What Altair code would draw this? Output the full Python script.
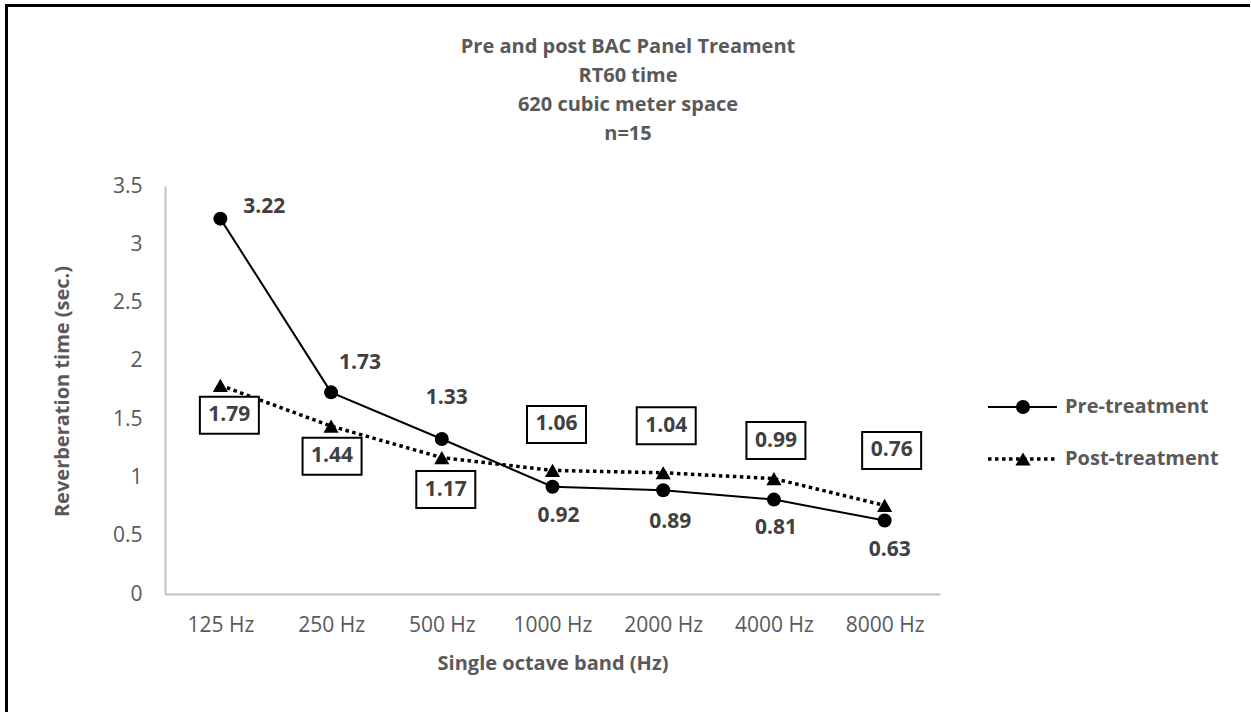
import json
import altair as alt
import pandas as pd

# Octave bands and RT60 values (seconds)
bands = ["125 Hz", "250 Hz", "500 Hz", "1000 Hz", "2000 Hz", "4000 Hz", "8000 Hz"]
pre_treatment = [3.22, 1.73, 1.33, 0.92, 0.89, 0.81, 0.63]
post_treatment = [1.79, 1.44, 1.17, 1.06, 1.04, 0.99, 0.76]
series_names = ["Pre-treatment", "Post-treatment"]
title_lines = ["Pre and post BAC Panel Treament", "RT60 time",
               "620 cubic meter space", "n=15"]

# Hand-placed data-label nudges (pixels, dx / dy) for each series
pre_label_nudge = [(44, -12), (29, -29), (5, -41), (6, 29), (7, 32), (2, 28), (5, 29)]
post_label_nudge = [(9, 30), (1, 30), (4, 32), (4, -46), (3, -47), (2, -38), (7, -55)]

W, H = 775, 408
Y_MAX = 3.5
PX_X = W / len(bands)
PX_Y = H / Y_MAX

FONT = "Open Sans"
FS = 20          # titles and legend
FS_TICK = 21     # axis tick labels
FS_DATA = 21     # data labels
GREY = "#595959"
LABEL_GREY = "#404040"


def frame(values, nudges):
    return pd.DataFrame({
        "idx": list(range(len(bands))),
        "band": bands,
        "value": values,
        "lx": [i + dx / PX_X for i, (dx, _) in enumerate(nudges)],
        "ly": [v - dy / PX_Y for v, (_, dy) in zip(values, nudges)],
    })


pre_df = frame(pre_treatment, pre_label_nudge)
post_df = frame(post_treatment, post_label_nudge)

x_scale = alt.Scale(domain=[-0.5, len(bands) - 0.5], nice=False, zero=False)
y_scale = alt.Scale(domain=[0, Y_MAX], nice=False)

x_axis = alt.Axis(
    values=list(range(len(bands))),
    labelExpr=json.dumps(bands) + "[datum.value]",
    ticks=False, grid=False, title="Single octave band (Hz)",
    labelBaseline="middle", labelPadding=31,
    titleY=69, titleBaseline="middle",
)
y_axis = alt.Axis(
    values=[0, 0.5, 1, 1.5, 2, 2.5, 3, 3.5], format="~g",
    ticks=False, grid=False, title="Reverberation time (sec.)",
    labelPadding=23, titleX=-103, titleY=205, titleAngle=270,
    titleAlign="center", titleBaseline="middle",
)

X = alt.X("idx:Q", scale=x_scale, axis=x_axis)
Y = alt.Y("value:Q", scale=y_scale, axis=y_axis)
LX = alt.X("lx:Q", scale=x_scale, axis=x_axis)
LY = alt.Y("ly:Q", scale=y_scale, axis=y_axis)

# Outer chart frame
border = alt.Chart(pre_df.head(1)).mark_rect(
    fillOpacity=0, stroke="black", strokeWidth=3
).encode(
    x=alt.value(-158.5), x2=alt.value(1300),
    y=alt.value(-180.5), y2=alt.value(800),
)

# Chart title block
title = alt.Chart(pre_df.head(1)).mark_text(
    font=FONT, fontSize=FS, fontWeight="bold", color=GREY,
    align="center", baseline="middle", lineHeight=29,
).encode(x=alt.value(463), y=alt.value(-139), text=alt.value(title_lines))

pre_line = alt.Chart(pre_df).mark_line(color="black", strokeWidth=2).encode(x=X, y=Y)
post_line = alt.Chart(post_df).mark_line(
    color="black", strokeWidth=3.5, strokeDash=[3.5, 3.5]
).encode(x=X, y=Y)

pre_pts = alt.Chart(pre_df).mark_point(
    shape="circle", filled=True, size=196, color="black", opacity=1
).encode(x=X, y=Y)
post_pts = alt.Chart(post_df).mark_point(
    shape="triangle-up", filled=True, size=230, color="black", opacity=1
).encode(x=X, y=Y)

pre_text = alt.Chart(pre_df).mark_text(
    font=FONT, fontSize=FS_DATA, fontWeight="bold", color=LABEL_GREY,
    align="center", baseline="middle",
).encode(x=LX, y=LY, text=alt.Text("value:Q", format=".2f"))

post_box = alt.Chart(post_df).mark_point(
    shape="M-1,-0.627L1,-0.627L1,0.627L-1,0.627Z", size=59 * 59,
    filled=True, fill="white", stroke="black", strokeWidth=2, opacity=1,
).encode(x=LX, y=LY)

post_text = alt.Chart(post_df).mark_text(
    font=FONT, fontSize=FS_DATA, fontWeight="bold", color=LABEL_GREY,
    align="center", baseline="middle",
).encode(x=LX, y=LY, text=alt.Text("value:Q", format=".2f"))

# Legend drawn beside the plot
legend_df = pd.DataFrame({"series": series_names})
legend_layers = []
rows_y = [221, 273]
for name, ry, dashed, shape in zip(series_names, rows_y, [False, True], ["circle", "triangle-up"]):
    one = legend_df[legend_df["series"] == name]
    line_kw = dict(color="black", strokeWidth=3.5 if dashed else 2)
    if dashed:
        line_kw["strokeDash"] = [3.5, 3.5]
    legend_layers.append(
        alt.Chart(one).mark_rule(**line_kw).encode(
            x=alt.value(823), x2=alt.value(892), y=alt.value(ry)
        )
    )
    legend_layers.append(
        alt.Chart(one).mark_point(
            shape=shape, filled=True, size=196 if shape == "circle" else 230,
            color="black", opacity=1,
        ).encode(x=alt.value(858), y=alt.value(ry))
    )
    legend_layers.append(
        alt.Chart(one).mark_text(
            font=FONT, fontSize=FS, fontWeight="bold", color=GREY,
            align="left", baseline="middle",
        ).encode(x=alt.value(900), y=alt.value(ry), text="series:N")
    )

chart = alt.layer(
    border, title, pre_line, post_line, pre_pts, post_pts,
    pre_text, post_box, post_text, *legend_layers,
).properties(
    width=W, height=H,
    autosize=alt.AutoSizeParams(type="none"),
    padding={"left": 165, "top": 186, "right": 310, "bottom": 118},
).configure(
    font=FONT, background="white",
).configure_view(
    strokeWidth=0,
).configure_axis(
    domainColor="#BFBFBF", domainWidth=2,
    labelFont=FONT, labelFontSize=FS_TICK, labelColor=GREY,
    titleFont=FONT, titleFontSize=FS, titleFontWeight="bold", titleColor=GREY,
)

chart.save("out.html", embed_options={"renderer": "svg", "actions": False})
